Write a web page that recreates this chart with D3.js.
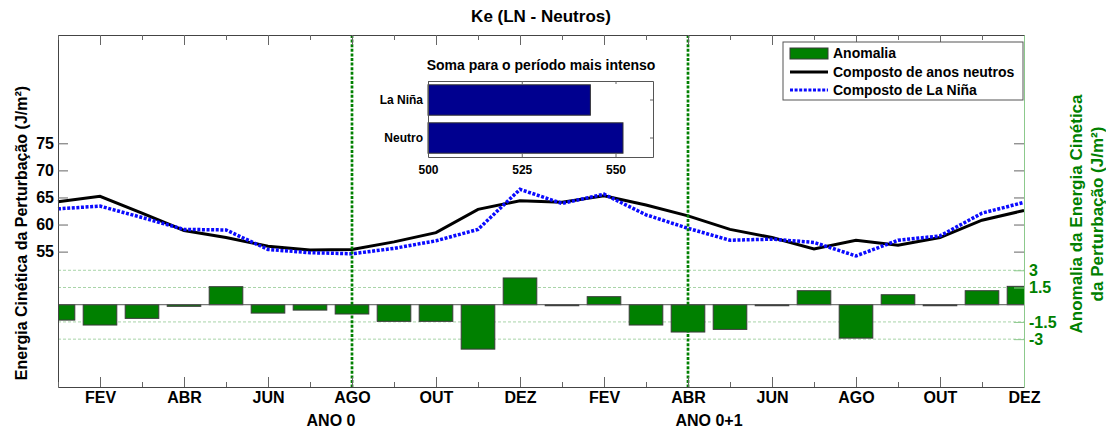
<!DOCTYPE html>
<html>
<head>
<meta charset="utf-8">
<script src="https://cdn.jsdelivr.net/npm/d3@7"></script>
<style>
  body { margin: 0; background: #fff; }
  svg text { font-family: "Liberation Sans", Arial, sans-serif; font-weight: bold; }
</style>
</head>
<body>
<svg id="chart" width="1106" height="431"></svg>
<script>
// Data

const meses = ["JAN","FEV","MAR","ABR","MAI","JUN","JUL","AGO","SET","OUT","NOV","DEZ",
               "JAN","FEV","MAR","ABR","MAI","JUN","JUL","AGO","SET","OUT","NOV","DEZ"];
const neutros = [64.2, 65.2, 62.1, 58.9, 57.6, 56.0, 55.3, 55.4, 56.8, 58.5, 62.8, 64.4,
                 64.1, 65.3, 63.6, 61.6, 59.1, 57.6, 55.5, 57.1, 56.2, 57.6, 60.8, 62.6];
const laNina = [62.9, 63.4, 61.3, 59.1, 59.0, 55.4, 54.8, 54.6, 55.6, 57.0, 59.1, 66.5,
                63.9, 65.6, 61.8, 59.3, 57.1, 57.3, 56.7, 54.2, 57.1, 57.9, 62.1, 64.1];
const anomalia = [-1.34, -1.77, -1.19, -0.14, 1.57, -0.73, -0.47, -0.81, -1.45, -1.45, -3.87, 2.33,
                  -0.09, 0.70, -1.77, -2.38, -2.15, -0.09, 1.22, -2.91, 0.87, -0.09, 1.22, 1.60];
const leftTicks = [55, 60, 65, 70, 75];
const rightTicks = [-3, -1.5, 1.5, 3];
const marcos = [8, 16];   // AGO ano 0, ABR ano 0+1
const anos = [{label: "ANO 0", m: 7.5}, {label: "ANO 0+1", m: 16.5}];

const somaCat = ["Neutro", "La Niña"];
const somaVal = [552.0, 543.3];
const somaTicks = [500, 525, 550];

// Layout

const svg = d3.select("#chart");
const L = 58, R = 1024, T = 35, B = 387;
const months = d3.range(1, 25);

const x = d3.scaleLinear().domain([1, 24]).range([L, R]);
const yL = d3.scaleLinear().domain([30, 95]).range([B, T]);
const yR = d3.scaleLinear().domain([-7.17, 23.5]).range([B, T]);

svg.append("defs").append("clipPath").attr("id", "clip")
  .append("rect").attr("x", L).attr("y", T).attr("width", R - L).attr("height", B - T);

// grid of right axis
svg.append("g").selectAll("line").data(rightTicks).join("line")
  .attr("x1", L).attr("x2", R)
  .attr("y1", d => yR(d)).attr("y2", d => yR(d))
  .attr("stroke", "#a8d4a8").attr("stroke-width", 1).attr("stroke-dasharray", "3,2");

// anomaly bars
const bw = (x(2) - x(1)) * 0.8;
svg.append("g").attr("clip-path", "url(#clip)")
  .selectAll("rect").data(anomalia).join("rect")
  .attr("x", (d, i) => x(i + 1) - bw / 2)
  .attr("y", d => yR(Math.max(0, d)))
  .attr("width", bw)
  .attr("height", d => Math.abs(yR(d) - yR(0)))
  .attr("fill", "#008000").attr("stroke", "#3a3a3a").attr("stroke-width", 1);

svg.append("line").attr("x1", L).attr("x2", R).attr("y1", yR(0)).attr("y2", yR(0))
  .attr("stroke", "#555").attr("stroke-width", 1);

// lines
const line = d3.line().x((d, i) => x(i + 1)).y(d => yL(d));
svg.append("path").datum(neutros).attr("d", line)
  .attr("fill", "none").attr("stroke", "#000").attr("stroke-width", 3);
svg.append("path").datum(laNina).attr("d", line)
  .attr("fill", "none").attr("stroke", "#0a0aff").attr("stroke-width", 3.5)
  .attr("stroke-dasharray", "3,1.6");

// vertical markers
svg.append("g").selectAll("line").data(marcos).join("line")
  .attr("x1", d => x(d)).attr("x2", d => x(d)).attr("y1", T).attr("y2", B)
  .attr("stroke", "#008000").attr("stroke-width", 2.7).attr("stroke-dasharray", "3,1.6");

// axes
const axL = svg.append("g").attr("transform", `translate(${L},0)`)
  .call(d3.axisLeft(yL).tickValues(leftTicks).tickSizeInner(-10).tickSizeOuter(0).tickPadding(4));
const axLr = svg.append("g").attr("transform", `translate(${R},0)`)
  .call(d3.axisRight(yL).tickValues(leftTicks).tickSizeInner(-10).tickSizeOuter(0).tickFormat(""));
const axB = svg.append("g").attr("transform", `translate(0,${B})`)
  .call(d3.axisBottom(x).tickValues(months).tickSizeOuter(0)
    .tickFormat(d => d % 2 === 0 ? meses[d - 1] : ""));
const axT = svg.append("g").attr("transform", `translate(0,${T})`)
  .call(d3.axisTop(x).tickValues(months).tickSizeOuter(0).tickFormat(""));
axB.selectAll(".tick line").attr("y2", d => d % 2 === 0 ? -10 : -5);
axT.selectAll(".tick line").attr("y2", d => d % 2 === 0 ? 10 : 5);
axB.selectAll(".tick text").attr("y", 5);

const axR = svg.append("g").attr("transform", `translate(${R},0)`)
  .call(d3.axisRight(yR).tickValues(rightTicks).tickSizeInner(-10).tickSizeOuter(0).tickPadding(5)
    .tickFormat(d => String(d)));

[axL, axLr, axB, axT].forEach(g => {
  g.select(".domain").attr("stroke", "#444");
  g.selectAll(".tick line").attr("stroke", "#666");
  g.selectAll(".tick text").attr("fill", "#000").attr("font-size", 16)
    .style("font-family", "'Liberation Sans', Arial, sans-serif");
});
axLr.select(".domain").remove();
axR.select(".domain").attr("stroke", "#8cc98c");
axR.selectAll(".tick line").attr("stroke", "#8cc98c");
axR.selectAll(".tick text").attr("fill", "#008000").attr("font-size", 16)
  .style("font-family", "'Liberation Sans', Arial, sans-serif");

// year labels
svg.append("g").selectAll("text").data(anos).join("text")
  .attr("x", d => x(d.m)).attr("y", 426).attr("text-anchor", "middle")
  .attr("font-size", 16).text(d => d.label);

// title and axis titles
svg.append("text").attr("x", (L + R) / 2).attr("y", 22).attr("text-anchor", "middle")
  .attr("font-size", 17).text("Ke (LN - Neutros)");
svg.append("text").attr("transform", "translate(27,233) rotate(-90)")
  .attr("text-anchor", "middle").attr("font-size", 16)
  .text("Energia Cinética da Perturbação (J/m²)");
svg.append("text").attr("transform", "translate(1082,214) rotate(-90)")
  .attr("text-anchor", "middle").attr("font-size", 17).attr("fill", "#008000")
  .text("Anomalia da Energia Cinética");
svg.append("text").attr("transform", "translate(1103,214) rotate(-90)")
  .attr("text-anchor", "middle").attr("font-size", 17).attr("fill", "#008000")
  .text("da Perturbação (J/m²)");

// legend
const lg = svg.append("g").attr("transform", "translate(783,42)");
lg.append("rect").attr("width", 240).attr("height", 58)
  .attr("fill", "#fff").attr("stroke", "#555");
lg.append("rect").attr("x", 7).attr("y", 6).attr("width", 38).attr("height", 11)
  .attr("fill", "#008000").attr("stroke", "#3a3a3a");
lg.append("line").attr("x1", 7).attr("x2", 45).attr("y1", 30).attr("y2", 30)
  .attr("stroke", "#000").attr("stroke-width", 3);
lg.append("line").attr("x1", 7).attr("x2", 45).attr("y1", 48).attr("y2", 48)
  .attr("stroke", "#0a0aff").attr("stroke-width", 3).attr("stroke-dasharray", "3,1.6");
lg.selectAll("text.leg").data(["Anomalia", "Composto de anos neutros", "Composto de La Niña"])
  .join("text").attr("class", "leg")
  .attr("x", 50).attr("y", (d, i) => 16 + i * 18.5).attr("font-size", 14).text(d => d);

// inset: soma para o periodo mais intenso
const ix = d3.scaleLinear().domain([500, 560]).range([428, 653]);
const iy = d3.scaleBand().domain(["La Niña", "Neutro"]).range([81, 157]).paddingInner(0.2).paddingOuter(0.1);
const ins = svg.append("g");
ins.append("rect").attr("x", 428).attr("y", 81).attr("width", 225).attr("height", 76)
  .attr("fill", "#fff");
ins.selectAll("rect.bar").data(somaCat).join("rect").attr("class", "bar")
  .attr("x", ix(500)).attr("y", d => iy(d))
  .attr("width", (d, i) => ix(somaVal[i]) - ix(500)).attr("height", iy.bandwidth())
  .attr("fill", "#00008f").attr("stroke", "#333").attr("stroke-width", 1);
const iaxB = ins.append("g").attr("transform", "translate(0,157)")
  .call(d3.axisBottom(ix).tickValues(somaTicks).tickSizeInner(-3).tickSizeOuter(0).tickPadding(8));
const iaxT = ins.append("g").attr("transform", "translate(0,81)")
  .call(d3.axisTop(ix).tickValues(somaTicks).tickSizeInner(-3).tickSizeOuter(0).tickFormat(""));
const iaxL = ins.append("g").attr("transform", "translate(428,0)")
  .call(d3.axisLeft(iy).tickSize(0).tickPadding(5));
const iaxR = ins.append("g").attr("transform", "translate(653,0)")
  .call(d3.axisRight(iy).tickSizeInner(-3).tickSizeOuter(0).tickFormat(""));
[iaxB, iaxT, iaxL, iaxR].forEach(g => {
  g.select(".domain").attr("stroke", "#555");
  g.selectAll(".tick line").attr("stroke", "#666");
  g.selectAll(".tick text").attr("fill", "#000").attr("font-size", 12)
    .style("font-family", "'Liberation Sans', Arial, sans-serif");
});
ins.append("text").attr("x", 541).attr("y", 70).attr("text-anchor", "middle")
  .attr("font-size", 14).text("Soma para o período mais intenso");
</script>
</body>
</html>
